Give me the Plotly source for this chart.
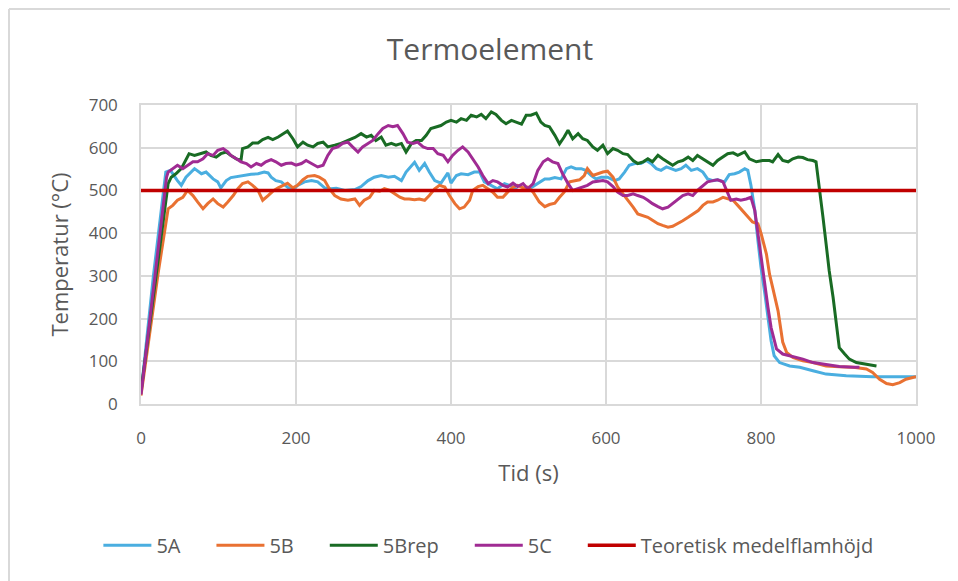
import plotly.graph_objects as go

# (tid [s], temperatur [°C])
s5A = [(0, 25), (16, 300), (32, 543), (38, 547), (47, 523), (52, 512), (58, 531), (69, 551), (78, 539),
       (84, 543), (93, 527), (99, 520), (103, 506), (110, 523), (116, 530), (125, 533), (134, 535),
       (142, 538), (151, 539), (159, 543), (164, 541), (168, 531), (174, 523), (181, 520), (190, 506),
       (196, 500), (202, 512), (211, 520), (220, 523), (228, 520), (237, 506), (245, 504), (252, 505),
       (263, 500), (276, 502), (284, 509), (293, 523), (301, 531), (310, 535), (319, 531), (327, 533),
       (336, 523), (342, 543), (353, 566), (359, 547), (366, 563), (372, 543), (379, 523), (387, 517),
       (396, 541), (400, 517), (407, 535), (413, 539), (422, 537), (430, 543), (437, 543), (443, 520),
       (452, 512), (460, 504), (469, 516), (478, 510), (486, 500), (495, 500), (503, 506), (512, 516),
       (521, 527), (527, 527), (534, 530), (542, 527), (549, 551), (555, 555), (561, 551), (568, 551),
       (574, 547), (581, 535), (587, 527), (594, 531), (602, 531), (611, 523), (617, 527), (624, 543),
       (630, 559), (637, 563), (645, 563), (652, 570), (658, 563), (665, 551), (671, 547), (678, 555),
       (684, 551), (690, 547), (697, 551), (703, 559), (710, 547), (718, 551), (725, 543), (731, 527),
       (738, 523), (744, 525), (753, 520), (759, 537), (766, 539), (772, 543), (779, 551), (783, 547),
       (787, 512), (792, 453), (796, 383), (800, 320), (805, 258), (809, 203), (813, 148), (817, 113),
       (824, 97), (837, 89), (850, 86), (867, 78), (884, 70), (910, 66), (944, 64), (1000, 64)]

s5B = [(0, 20), (22, 305), (35, 457), (41, 465), (47, 477), (54, 484), (60, 500), (67, 488), (73, 473),
       (80, 457), (86, 469), (93, 480), (99, 469), (106, 461), (112, 473), (119, 488), (125, 504),
       (131, 516), (138, 520), (144, 512), (151, 500), (157, 477), (164, 488), (170, 498), (177, 506),
       (183, 512), (189, 517), (196, 506), (202, 512), (209, 525), (215, 533), (224, 535), (230, 531),
       (237, 523), (243, 504), (250, 488), (258, 480), (267, 477), (276, 480), (282, 465), (288, 477),
       (295, 484), (301, 500), (308, 498), (314, 504), (321, 500), (327, 492), (334, 484), (340, 480),
       (346, 480), (353, 478), (359, 480), (366, 477), (372, 488), (379, 504), (385, 512), (392, 508),
       (398, 488), (405, 469), (411, 457), (417, 461), (424, 477), (428, 500), (435, 509), (441, 512),
       (448, 504), (454, 496), (460, 484), (467, 484), (473, 496), (480, 508), (486, 512), (493, 506),
       (499, 508), (506, 496), (514, 473), (521, 462), (527, 467), (534, 470), (540, 484), (546, 496),
       (553, 520), (559, 523), (566, 525), (572, 535), (576, 551), (583, 535), (589, 539), (596, 543),
       (602, 545), (609, 531), (615, 508), (622, 492), (628, 477), (635, 461), (641, 445), (648, 441),
       (654, 437), (660, 430), (667, 422), (673, 418), (680, 414), (686, 416), (693, 422), (699, 429),
       (706, 437), (712, 445), (719, 453), (725, 465), (731, 473), (738, 473), (744, 477), (751, 484),
       (757, 480), (764, 477), (770, 465), (776, 453), (783, 437), (789, 426), (796, 422), (800, 400),
       (807, 351), (811, 304), (815, 273), (822, 218), (828, 145), (833, 121), (841, 109), (854, 101),
       (867, 97), (884, 89), (901, 87), (919, 86), (936, 82), (944, 74), (953, 58), (962, 48), (970, 45),
       (979, 50), (987, 58), (996, 62), (1000, 64)]

s5Brep = [(0, 30), (20, 305), (35, 516), (39, 531), (45, 539), (52, 551), (58, 570), (62, 586), (69, 582),
          (78, 586), (84, 590), (90, 582), (97, 578), (103, 586), (110, 590), (116, 582), (123, 574),
          (129, 570), (131, 598), (138, 602), (144, 611), (151, 611), (157, 619), (164, 624), (170, 619),
          (177, 625), (183, 633), (189, 639), (196, 621), (202, 602), (209, 613), (215, 606), (222, 602),
          (228, 610), (235, 613), (241, 602), (250, 606), (258, 610), (267, 617), (276, 624), (284, 633),
          (291, 625), (297, 629), (303, 617), (310, 625), (316, 606), (323, 610), (329, 606), (336, 610),
          (342, 590), (349, 610), (355, 617), (362, 617), (368, 629), (374, 645), (381, 649), (387, 652),
          (394, 660), (400, 664), (407, 660), (413, 668), (420, 664), (426, 676), (433, 672), (439, 678),
          (445, 668), (452, 684), (458, 678), (465, 664), (471, 656), (478, 664), (484, 660), (491, 655),
          (497, 676), (503, 676), (510, 681), (516, 660), (521, 652), (527, 649), (534, 629), (540, 609),
          (546, 625), (551, 641), (557, 621), (564, 633), (570, 621), (576, 617), (583, 602), (589, 594),
          (596, 606), (602, 586), (609, 598), (615, 594), (622, 586), (628, 584), (635, 570), (641, 563),
          (648, 567), (654, 574), (660, 567), (667, 582), (673, 574), (680, 567), (686, 559), (693, 567),
          (699, 570), (706, 578), (712, 570), (718, 582), (725, 574), (731, 567), (738, 559), (744, 570),
          (751, 578), (757, 586), (764, 588), (770, 582), (779, 590), (785, 574), (794, 567), (802, 570),
          (811, 570), (815, 567), (822, 584), (828, 570), (835, 567), (841, 574), (848, 578), (854, 577),
          (860, 572), (867, 570), (871, 567), (876, 500), (880, 437), (884, 375), (888, 312), (893, 250),
          (897, 187), (901, 132), (908, 117), (914, 105), (923, 97), (936, 93), (949, 89)]

s5C = [(0, 22), (18, 300), (33, 531), (35, 543), (41, 551), (47, 559), (54, 551), (60, 559), (67, 567),
       (73, 567), (80, 574), (86, 586), (93, 582), (99, 594), (106, 598), (112, 590), (116, 582),
       (123, 574), (129, 567), (136, 563), (142, 555), (149, 563), (155, 559), (161, 567), (168, 572),
       (174, 567), (181, 559), (187, 563), (194, 564), (200, 559), (207, 563), (213, 570), (220, 563),
       (228, 555), (235, 559), (241, 582), (247, 598), (254, 602), (260, 610), (267, 613), (273, 602),
       (280, 590), (286, 602), (293, 610), (299, 617), (306, 633), (312, 645), (319, 652), (325, 649),
       (331, 652), (338, 633), (344, 613), (351, 610), (357, 613), (364, 602), (370, 598), (377, 598),
       (383, 586), (390, 582), (396, 567), (402, 582), (409, 594), (415, 602), (422, 590), (428, 574),
       (435, 555), (441, 535), (448, 516), (454, 523), (460, 520), (467, 512), (473, 508), (480, 517),
       (486, 509), (493, 516), (499, 504), (506, 516), (512, 547), (519, 567), (525, 574), (531, 567),
       (538, 563), (544, 539), (551, 516), (557, 500), (564, 504), (570, 508), (576, 512), (583, 520),
       (589, 522), (596, 523), (602, 520), (609, 509), (615, 496), (622, 488), (628, 488), (635, 492),
       (641, 488), (648, 484), (654, 477), (660, 469), (667, 462), (673, 457), (680, 461), (686, 469),
       (693, 480), (699, 488), (706, 492), (712, 488), (718, 500), (725, 512), (731, 520), (738, 523),
       (744, 525), (751, 520), (757, 492), (761, 477), (768, 480), (774, 477), (781, 480), (787, 484),
       (792, 453), (796, 398), (800, 344), (805, 281), (809, 226), (813, 179), (820, 129), (828, 117),
       (841, 111), (854, 105), (867, 97), (884, 92), (901, 88), (919, 86), (927, 86)]

flamhojd_t = [0, 1000]
flamhojd_T = [500, 500]

series = [("5A", s5A, "#4AAEE0"), ("5B", s5B, "#E97132"), ("5Brep", s5Brep, "#196B24"),
          ("5C", s5C, "#A02B93")]

grey = "#595959"
grid = "#D9D9D9"
font = "Open Sans"
pad = "\u00a0" * 5  # extra room between legend entries

fig = go.Figure()
for name, data, color in series:
    fig.add_trace(go.Scatter(x=[p[0] for p in data], y=[p[1] for p in data], mode="lines",
                             name=name + pad, line=dict(color=color, width=3)))
fig.add_trace(go.Scatter(x=flamhojd_t, y=flamhojd_T, mode="lines", name="Teoretisk medelflamhöjd",
                         line=dict(color="#C00000", width=3.5)))

# page has an 8px body margin, so the figure is 950x573
W, H = 950, 573
fig.update_layout(
    width=W, height=H,
    margin=dict(l=133, r=42, t=97, b=177),
    paper_bgcolor="white", plot_bgcolor="white",
    font=dict(family=font, color=grey, size=17),
    title=dict(text="Termoelement", x=482 / W, xref="container", xanchor="center",
               y=1 - 41 / H, yref="container", yanchor="middle",
               font=dict(size=30, color=grey, family=font)),
    showlegend=True,
    legend=dict(orientation="h", x=-0.055, xanchor="left", y=-0.472, yanchor="middle",
                font=dict(size=20, color=grey), itemwidth=48, traceorder="normal"),
    shapes=[
        dict(type="line", xref="paper", yref="paper", x0=-0.1703, x1=1.1, y0=1.321, y1=1.321,
             line=dict(color=grid, width=2)),
        dict(type="line", xref="paper", yref="paper", x0=-0.1703, x1=-0.1703, y0=1.321, y1=-0.7,
             line=dict(color=grid, width=2)),
    ],
)
fig.update_xaxes(range=[0, 1000], tick0=0, dtick=200, showgrid=True, gridcolor=grid, gridwidth=1.5,
                 zeroline=False, showline=True, linecolor=grid, linewidth=1.5, mirror=True,
                 ticks="", ticklabelstandoff=18, tickfont=dict(size=17),
                 title=dict(text="Tid (s)", standoff=17, font=dict(size=22)))
fig.update_yaxes(range=[0, 700], tick0=0, dtick=100, showgrid=True, gridcolor=grid, gridwidth=1.5,
                 zeroline=False, showline=True, linecolor=grid, linewidth=1.5, mirror=True,
                 ticks="", ticklabelstandoff=18, tickfont=dict(size=17),
                 title=dict(text="Temperatur (°C)", standoff=14, font=dict(size=22)))

fig.write_html("out.html")
